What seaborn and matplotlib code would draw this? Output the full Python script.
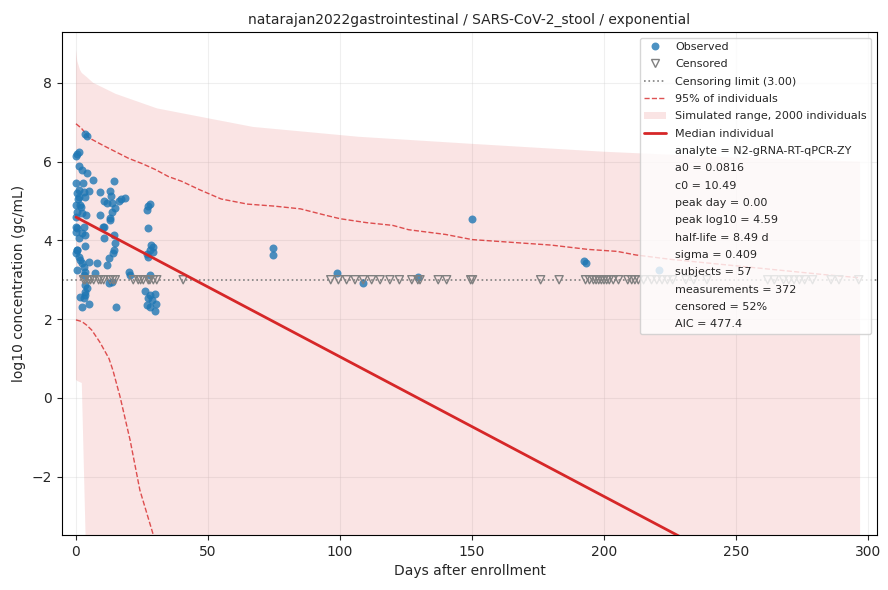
import matplotlib
matplotlib.use("Agg")
import matplotlib.pyplot as plt
from matplotlib.lines import Line2D
from matplotlib.patches import Patch
import seaborn as sns
import pandas as pd

# ---------------- data ----------------
obs_day = [3.5, 4.2, 0.4, 1.1, 1.3, 2.3, 4.2, 6.3, 0.0, 2.5, 14.3,
           1.0, 2.9, 4.8, 3.5, 1.0, 9.2, 13.0, 13.4, 17.2, 16.2,
           10.5, 11.7, 13.6, 14.9, 13.6, 0.0, 1.6, 0.4, 2.3, 3.8,
           9.2, 13.0, 0.0, 2.9, 10.1,
           0.4, 2.3, 3.5, 1.0, 10.5, 10.5, 13.0, 14.3, 14.9, 14.3, 13.9,
           0.4, 0.0, 1.0, 3.3, 1.6, 2.3, 4.8, 2.9, 8.0, 12.4, 11.7,
           3.5, 7.3, 2.9, 20.0, 20.6, 13.6, 12.4,
           3.5, 4.2, 3.3, 3.5, 2.9, 2.3, 5.0, 15.2, 1.6,
           18.6, 28.0, 27.4, 26.8, 27.2, 28.4, 29.3, 28.0, 29.3, 26.8, 27.4,
           28.0, 26.1, 29.9, 28.0, 27.4, 28.7, 30.2, 26.8, 28.0, 29.9,
           0.0, 0.2, 0.0, 0.5, 0.3, 0.0, 1.8, 0.6,
           74.5, 74.5, 99.0, 108.8, 129.7, 150.0, 192.5, 193.0, 221.0]
obs_val = [6.70, 6.65, 6.20, 6.24, 5.88, 5.78, 5.72, 5.54, 5.45, 5.45, 5.51,
           5.28, 5.23, 5.26, 5.11, 5.10, 5.23, 5.26, 5.13, 5.05, 4.99,
           4.99, 4.95, 4.96, 4.82, 4.73, 4.90, 4.90, 4.73, 4.69, 4.64,
           4.64, 4.56, 4.35, 4.35, 4.35,
           4.31, 4.18, 4.14, 4.05, 4.35, 4.05, 4.52, 4.14, 3.93, 3.76, 3.68,
           3.76, 3.67, 3.59, 3.86, 3.50, 3.42, 3.46, 3.33, 3.42, 3.55, 3.38,
           3.20, 3.18, 3.12, 3.20, 3.12, 2.95, 2.91,
           2.87, 2.78, 2.70, 2.61, 2.53, 2.30, 2.39, 2.30, 2.57,
           5.07, 4.92, 4.86, 4.77, 4.32, 3.87, 3.84, 3.76, 3.71, 3.65, 3.59,
           3.12, 2.71, 2.65, 2.61, 2.53, 2.48, 2.38, 2.35, 2.31, 2.20,
           6.15, 5.20, 4.20, 3.75, 3.25, 4.60, 4.85, 5.05,
           3.81, 3.63, 3.17, 2.91, 3.08, 4.54, 3.47, 3.42, 3.25]

cens_day = [2.9, 3.5, 4.8, 5.5, 6.7, 8.6, 9.5, 10.5, 13.0, 14.0, 14.9,
            21.7, 23.6, 24.5, 25.5, 27.4, 28.0, 29.3, 30.6, 40.6,
            96.5, 99.4, 102.5, 105.7, 108.8, 112.0, 115.2, 118.9, 122.5,
            127.2, 129.5, 130.3, 137.2, 140.4, 149.5, 150.2, 176.0, 183.0,
            193.0, 194.5, 196.0, 197.0, 198.0, 199.0, 200.0, 201.0, 202.0,
            203.5, 205.5, 209.0, 210.5, 211.7, 213.0, 215.0, 218.0, 220.0,
            222.0, 224.0, 226.0, 231.0, 234.0, 239.0, 262.0, 264.5, 268.0,
            270.0, 272.0, 274.0, 276.0, 279.0, 286.0, 289.0, 296.5]
cens_limit = 3.0

median_day = [0, 297]
median_val = [4.59, -5.94]

upper95_day = [0, 2, 5, 10, 15, 20, 25, 30, 35, 40, 47, 55, 65, 75, 85, 95,
               100, 110, 120, 126, 140, 150, 165, 180, 194, 205, 212, 225,
               240, 255, 270, 285, 297]
upper95_val = [6.96, 6.85, 6.60, 6.42, 6.25, 6.08, 5.95, 5.80, 5.62, 5.50,
               5.28, 5.05, 4.92, 4.87, 4.80, 4.63, 4.55, 4.45, 4.38, 4.27,
               4.15, 4.02, 3.95, 3.88, 3.77, 3.72, 3.63, 3.52, 3.42, 3.32,
               3.22, 3.12, 3.05]

lower95_day = [0, 2.2, 4, 6, 9, 11, 12.5, 14, 16.7, 20.5, 24.2, 29.3, 35, 40]
lower95_val = [1.98, 1.94, 1.85, 1.72, 1.42, 1.18, 1.00, 0.70, 0.03, -1.07,
               -2.34, -3.48, -4.90, -6.00]

range_day = [0, 0.5, 1.5, 2.2, 4, 6.5, 15, 30.7, 50, 67, 107, 150, 200, 250, 297]
range_hi = [8.84, 8.55, 8.33, 8.25, 8.15, 8.00, 7.72, 7.35, 7.10, 6.88,
            6.63, 6.45, 6.25, 6.10, 6.00]
range_lo = [0.46, 0.43, 0.40, 0.38, -4.5, -9.0, -15.0, -20.0, -25.0, -25.0,
            -25.0, -25.0, -25.0, -25.0, -25.0]

stats = ["analyte = N2-gRNA-RT-qPCR-ZY", "a0 = 0.0816", "c0 = 10.49",
         "peak day = 0.00", "peak log10 = 4.59", "half-life = 8.49 d",
         "sigma = 0.409", "subjects = 57", "measurements = 372",
         "censored = 52%", "AIC = 477.4"]

title = "natarajan2022gastrointestinal / SARS-CoV-2_stool / exponential"

# ---------------- plot ----------------
sns.set_style("ticks")
plt.rcParams['font.family'] = ['DejaVu Sans']

fig, ax = plt.subplots(figsize=(8.88, 5.9), dpi=100)
fig.subplots_adjust(left=0.0698, right=0.9876, top=0.9458, bottom=0.0932)

red = "#d62728"
ax.fill_between(range_day, range_lo, range_hi, color=red, alpha=0.12,
                linewidth=0, zorder=1)

sns.lineplot(x=upper95_day, y=upper95_val, ax=ax, color=red, alpha=0.8,
             linewidth=1, linestyle="--", zorder=2, legend=False)
sns.lineplot(x=lower95_day, y=lower95_val, ax=ax, color=red, alpha=0.8,
             linewidth=1, linestyle="--", zorder=2, legend=False)

ax.axhline(cens_limit, color="gray", linestyle=":", linewidth=1.2, zorder=2)

obs_df = pd.DataFrame({"day": obs_day, "val": obs_val})
sns.scatterplot(data=obs_df, x="day", y="val", ax=ax, color="#1f77b4",
                alpha=0.8, s=33, linewidth=0, zorder=4, legend=False)

cens_df = pd.DataFrame({"day": cens_day, "val": [cens_limit] * len(cens_day)})
sns.scatterplot(data=cens_df, x="day", y="val", ax=ax, marker="v",
                facecolors="none", edgecolor="gray", linewidth=1.0, s=34,
                zorder=4, legend=False)

sns.lineplot(x=median_day, y=median_val, ax=ax, color=red, linewidth=2,
             zorder=5, legend=False)

ax.set_xlim(-5.3, 303.4)
ax.set_ylim(-3.48, 9.29)
ax.set_xlabel("Days after enrollment", fontsize=10)
ax.set_ylabel("log10 concentration (gc/mL)", fontsize=10)
ax.set_title(title, fontsize=10)
ax.grid(True, alpha=0.3)
for sp in ax.spines.values():
    sp.set_visible(True)
    sp.set_color("black")
ax.tick_params(labelsize=10)

handles = [
    Line2D([], [], marker="o", linestyle="none", color="#1f77b4", alpha=0.8,
           markersize=5.7, markeredgewidth=0),
    Line2D([], [], marker="v", linestyle="none", markerfacecolor="none",
           markeredgecolor="gray", markersize=5.8),
    Line2D([], [], color="gray", linestyle=":", linewidth=1.2),
    Line2D([], [], color=red, linestyle="--", linewidth=1, alpha=0.8),
    Patch(facecolor=red, alpha=0.12, linewidth=0),
    Line2D([], [], color=red, linewidth=2),
] + [Line2D([], [], color="none") for _ in stats]
labels = ["Observed", "Censored", "Censoring limit (3.00)",
          "95% of individuals", "Simulated range, 2000 individuals",
          "Median individual"] + stats
ax.legend(handles, labels, loc="upper right", fontsize=8, framealpha=0.8,
          labelspacing=0.66)

fig.savefig("out.png", dpi=100)
